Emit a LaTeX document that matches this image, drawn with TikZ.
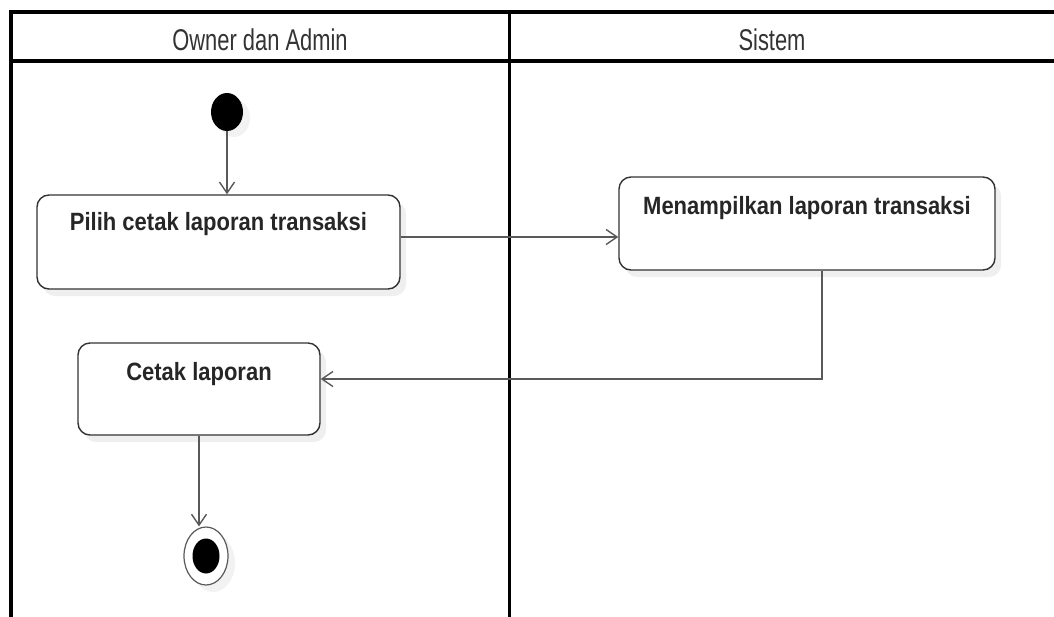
\documentclass[tikz,border=0pt]{standalone}
\usepackage{fontspec}
\setmainfont{Liberation Sans}
\newfontfamily\lanefont[FakeStretch=0.73]{Liberation Sans}
\newfontfamily\actfont[FakeStretch=0.88]{Liberation Sans}
\usetikzlibrary{arrows.meta,shadows,shapes.geometric}

\begin{document}
\begin{tikzpicture}[x=1pt,y=-1pt,
    lane/.style={line width=3.5pt,black},
    act/.style={draw=black!80,line width=1.4pt,rounded corners=12pt,fill=white,
      drop shadow={opacity=0.12,shadow xshift=6pt,shadow yshift=-7pt}},
    acttext/.style={anchor=base,text=black!85,font=\actfont\bfseries\fontsize{25}{25}\selectfont},
    flow/.style={draw=black!65,line width=1.4pt,-{Straight Barb[length=11pt,width=15pt]}}]
      \clip (0,0) rectangle (1054,616);
      \fill[white] (0,0) rectangle (1054,616);
      % Swimlanes
      \draw[lane] (11,700) |- (1100,12);
      \draw[lane] (11,61) -- (1100,61);
      \draw[lane] (509.5,12) -- (509.5,700);
      \begin{scope}[every node/.style={anchor=base,text=black!80,font=\lanefont\fontsize{30}{30}\selectfont}]
        \node (owner) at (260,50) {Owner dan Admin};
        \node (sistem) at (772,50) {Sistem};
      \end{scope}
      % Activities
      \node[act,minimum width=363pt,minimum height=94pt] (pilih) at (218.5,242) {};
      \node[acttext] (pilihtxt) at ([yshift=-36pt]pilih.north) {Pilih cetak laporan transaksi};
      \node[act,minimum width=376pt,minimum height=93pt] (tampil) at (807,223.5) {};
      \node[acttext] (tampiltxt) at ([yshift=-38pt]tampil.north) {Menampilkan laporan transaksi};
      \node[act,minimum width=242pt,minimum height=92pt] (cetak) at (199,389) {};
      \node[acttext] (cetaktxt) at ([yshift=-38pt]cetak.north) {Cetak laporan};
      % Start and end
      \node[ellipse,fill=black,minimum width=32pt,minimum height=38pt,inner sep=0pt,
        drop shadow={opacity=0.1,shadow xshift=7pt,shadow yshift=-6pt}] (start) at (227,112) {};
      \node[ellipse,draw=black!65,line width=1.2pt,fill=white,minimum width=44pt,minimum height=58pt,
        inner sep=0pt,drop shadow={opacity=0.1,shadow xshift=7pt,shadow yshift=-7pt}] (end) at (206,556) {};
      \node[ellipse,fill=black,minimum width=27pt,minimum height=35pt,inner sep=0pt] (endin) at (end) {};
      % Flows
      \draw[flow] (start.south) -- (start.south |- pilih.north);
      \draw[flow] ([yshift=5pt]pilih.east) -- ([yshift=5pt]pilih.east -| tampil.west);
      \coordinate (turn) at (822,379);
      \draw[flow] (turn |- tampil.south) -- (turn) -- (turn -| cetak.east);
      \draw[flow] (cetak.south) -- (cetak.south |- end.north);
\end{tikzpicture}
\end{document}
